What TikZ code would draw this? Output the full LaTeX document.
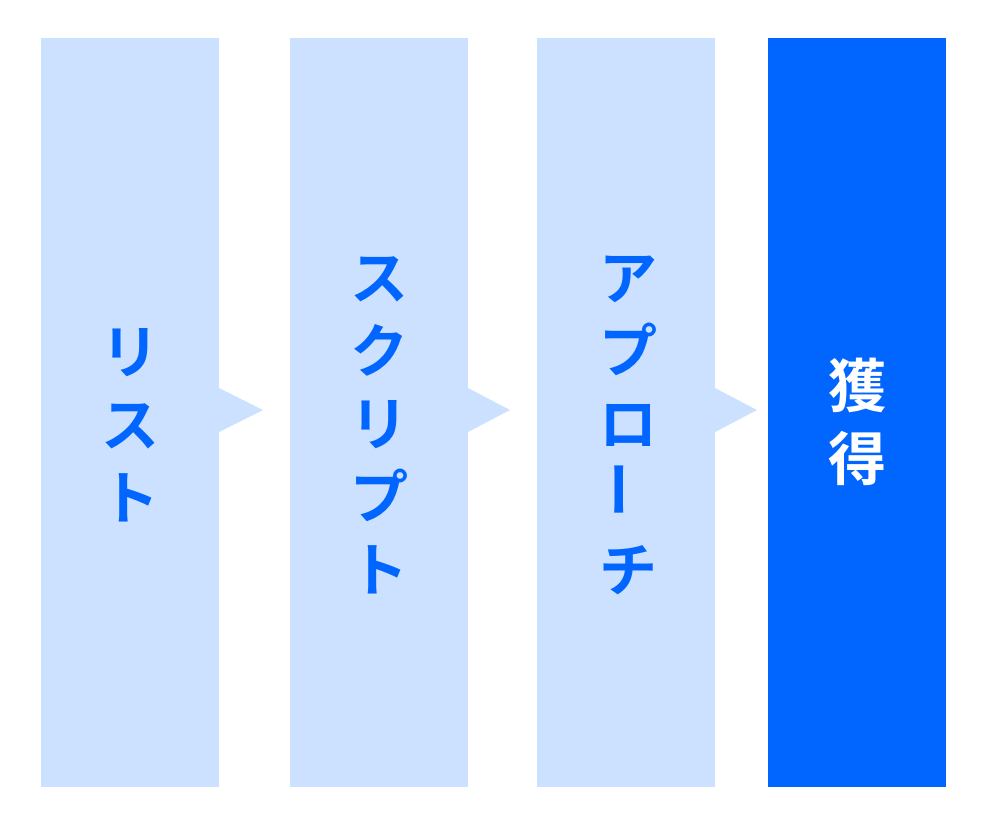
\documentclass[tikz,border=0pt]{standalone}
\usepackage{fontspec}
\newfontfamily\jp{Noto Sans CJK JP Bold}
\definecolor{lightb}{HTML}{CCE0FF}
\definecolor{darkb}{HTML}{0066FF}
\tikzset{col/.style={fill=lightb,draw=none},
 lbl/.style={align=center,font=\jp\fontsize{58}{73}\selectfont,inner sep=0pt}}
\begin{document}
\begin{tikzpicture}[x=1pt,y=-1pt]
\useasboundingbox (0,0) rectangle (987,825);
\fill[col] (41,38) rectangle (219,787);
\fill[col] (219,388) -- (263,410) -- (219,432) -- cycle;
\fill[col] (290,38) rectangle (468,787);
\fill[col] (468,388) -- (510,410) -- (468,432) -- cycle;
\fill[col] (537,38) rectangle (715,787);
\fill[col] (715,388) -- (757,410) -- (715,432) -- cycle;
\fill[darkb] (768,38) rectangle (946,787);
\node[lbl,text=darkb] (t1) at (130,425) {リ\\ス\\ト};
\node[lbl,text=darkb] (t2) at (379,425) {ス\\ク\\リ\\プ\\ト};
\node[lbl,text=darkb] (t3) at (628,425) {ア\\プ\\ロ\\\rotatebox{90}{ー}\\チ};
\node[lbl,text=white] (t4) at (857,422) {獲\\得};
\end{tikzpicture}
\end{document}
